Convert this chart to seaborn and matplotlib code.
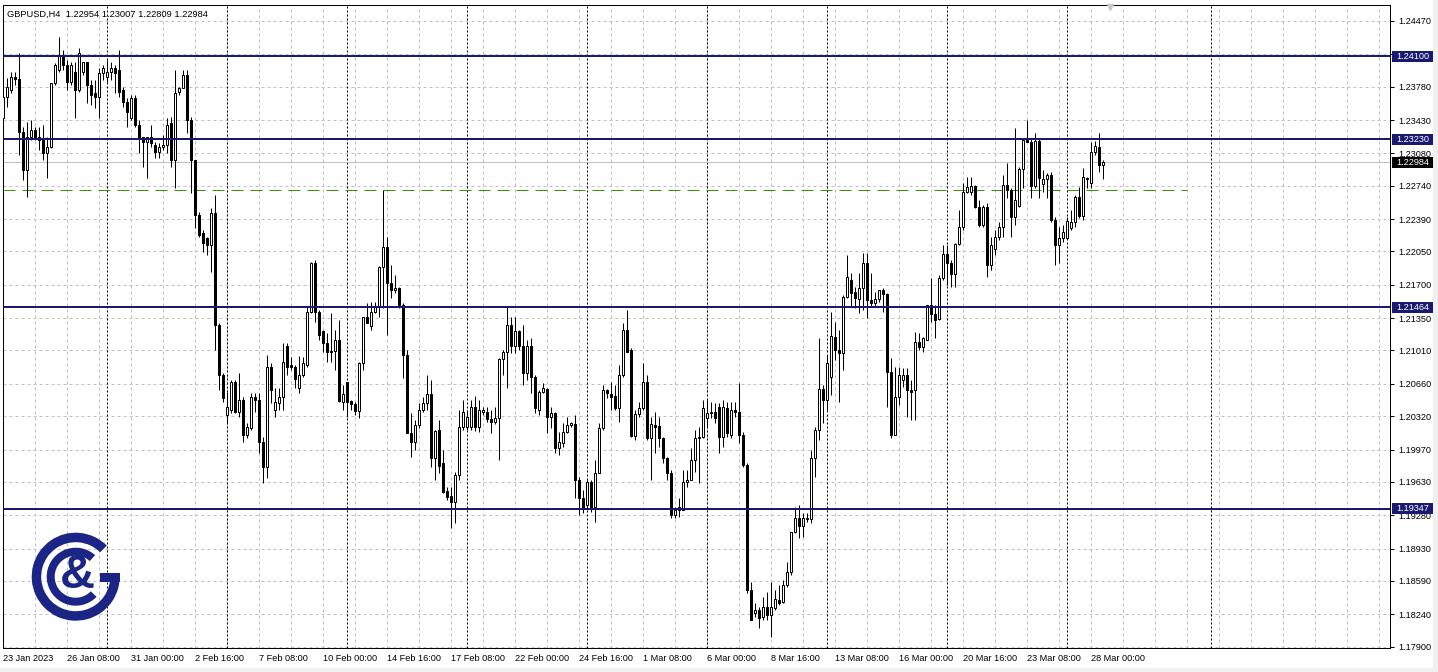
import numpy as np
import pandas as pd
import seaborn as sns
import matplotlib
matplotlib.use("Agg")
import matplotlib.pyplot as plt
import matplotlib.transforms as mtransforms
from matplotlib.patches import Wedge, Rectangle

sns.set_theme(style="white")
plt.rcParams['font.family'] = ['Liberation Sans', 'DejaVu Sans']
plt.rcParams['lines.scale_dashes'] = False

# ---------------- data ----------------
title_text = "GBPUSD,H4  1.22954 1.23007 1.22809 1.22984"
first_bar = 4  # H4 bars counted from 23 Jan 2023 00:00 (weekdays only)

open_pips = [
    12345,12367,12374,12388,12386,12330,12290,12325,12332,12325,
    12322,12308,12315,12382,12395,12411,12401,12383,12393,12374,
    12393,12404,12380,12371,12367,12392,12388,12393,12398,12395,
    12374,12362,12345,12366,12338,12325,12320,12325,12317,12309,
    12315,12317,12340,12301,12372,12377,12390,12343,12301,12243,
    12224,12219,12212,12245,12128,12075,12033,12038,12068,12036,
    12049,12012,12020,12052,12049,12005,11979,12084,12038,12046,
    12052,12106,12086,12084,12062,12075,12086,12141,12193,12141,
    12121,12109,12100,12100,12112,12047,12068,12048,12045,12037,
    12088,12136,12127,12141,12147,12189,12210,12172,12164,12167,
    12149,12096,12014,12005,12023,12038,12046,12055,11988,12017,
    11983,11953,11948,11942,11970,12021,12021,12021,12042,12021,
    12036,12036,12029,12026,12030,12092,12099,12128,12106,12121,
    12106,12077,12106,12073,12038,12057,12061,12031,12035,11999,
    12004,12015,12023,12024,11965,11946,11939,11963,11937,11972,
    12020,12059,12055,12053,12041,12075,12122,12101,12011,12034,
    12041,12068,12009,12023,12022,12009,11988,11972,11928,11933,
    11933,11963,11965,11986,12009,12010,12030,12035,12036,12042,
    12010,12041,12012,12038,12036,12012,11981,11849,11825,11828,
    11821,11832,11823,11831,11839,11837,11855,11868,11910,11925,
    11917,11924,11924,11988,12017,12061,12049,12073,12115,12101,
    12098,12157,12175,12162,12155,12167,12193,12154,12151,12155,
    12164,12160,12078,12012,12052,12070,12075,12059,12059,12110,
    12105,12112,12149,12139,12134,12177,12202,12193,12181,12213,
    12231,12267,12267,12274,12252,12233,12252,12191,12208,12220,
    12231,12275,12269,12241,12253,12292,12322,12320,12274,12321,
    12276,12281,12285,12238,12212,12219,12219,12230,12236,12262,
    12242,12282,12277,12309,12315,12295.4,
]
high_pips = [
    12387,12387,12393,12393,12413,12336,12341,12343,12336,12336,
    12338,12325,12382,12403,12430,12416,12406,12404,12404,12419,
    12404,12404,12385,12385,12398,12401,12406,12404,12401,12416,
    12378,12366,12369,12369,12343,12325,12325,12338,12320,12319,
    12327,12345,12346,12395,12378,12395,12395,12346,12301,12246,
    12227,12220,12251,12264,12130,12077,12057,12070,12070,12077,
    12052,12025,12056,12056,12056,12010,12096,12088,12062,12062,
    12109,12109,12094,12086,12095,12094,12147,12194,12196,12143,
    12122,12119,12140,12122,12133,12065,12068,12049,12047,12089,
    12136,12151,12152,12152,12190,12269,12220,12191,12180,12168,
    12151,12101,12035,12028,12046,12052,12075,12070,12017,12028,
    11996,11958,11958,11973,12038,12049,12038,12049,12053,12049,
    12042,12042,12038,12042,12093,12101,12147,12136,12136,12122,
    12128,12112,12114,12075,12059,12067,12062,12042,12036,12015,
    12025,12031,12026,12033,11968,11954,11965,11965,11986,12025,
    12065,12061,12068,12065,12086,12130,12143,12104,12038,12047,
    12088,12075,12031,12036,12031,12010,11989,11975,11937,11946,
    11975,11975,11999,12017,12021,12049,12049,12047,12046,12046,
    12049,12047,12047,12047,12067,12015,11983,11858,11836,11832,
    11842,11847,11858,11849,11855,11860,11879,11910,11937,11939,
    11930,11930,11996,12021,12114,12065,12096,12141,12131,12122,
    12159,12201,12182,12168,12182,12203,12203,12182,12162,12164,
    12167,12161,12093,12084,12084,12083,12083,12070,12120,12119,
    12115,12149,12177,12149,12180,12212,12212,12196,12214,12248,
    12277,12283,12283,12275,12259,12254,12256,12220,12227,12236,
    12285,12298,12272,12335,12294,12324,12343,12324,12329,12324,
    12290,12287,12288,12241,12231,12233,12241,12248,12264,12273,
    12293,12283,12320,12321,12329,12300.7,
]
low_pips = [
    12343,12357,12371,12380,12306,12280,12262,12322,12322,12311,
    12301,12282,12314,12380,12393,12395,12374,12380,12345,12372,
    12390,12361,12359,12356,12345,12385,12383,12385,12371,12367,
    12357,12336,12343,12336,12308,12294,12282,12315,12303,12303,
    12311,12308,12294,12272,12369,12377,12329,12266,12230,12220,
    12204,12201,12183,12101,12059,12047,12025,12035,12035,12031,
    12005,12009,12017,12036,11993,11962,11967,12046,12031,12038,
    12038,12075,12081,12062,12056,12073,12084,12140,12131,12112,
    12099,12089,12089,12081,12047,12038,12031,12038,12033,12030,
    12081,12130,12122,12140,12136,12146,12117,12156,12161,12146,
    12072,12014,11989,11996,12020,12036,12038,11979,11965,11972,
    11951,11944,11915,11920,11965,12017,12017,12017,12016,12015,
    12033,12026,12014,12024,11986,12075,12062,12098,12098,12101,
    12065,12070,12056,12035,12033,12056,12014,12020,11993,11991,
    12000,12014,12021,11946,11928,11930,11937,11931,11921,11972,
    12017,12051,12038,12038,12026,12073,12099,12010,12007,12031,
    12038,12007,11965,11993,12000,11983,11965,11925,11925,11926,
    11933,11958,11965,11973,11962,12009,12021,12030,12025,11993,
    12000,12010,12009,12031,12004,11979,11846,11818,11821,11810,
    11818,11818,11800,11828,11834,11836,11853,11865,11909,11904,
    11905,11921,11920,11968,12007,12025,12038,12054,12091,12047,
    12081,12156,12147,12146,12140,12143,12135,12147,12147,12152,
    12141,12042,12009,12012,12044,12063,12031,12028,12028,12101,
    12099,12112,12131,12114,12133,12175,12170,12168,12168,12212,
    12227,12266,12264,12251,12231,12231,12178,12185,12201,12217,
    12220,12261,12220,12233,12252,12272,12320,12261,12272,12261,
    12267,12261,12236,12191,12193,12215,12219,12227,12231,12240,
    12238,12272,12272,12306,12288,12280.9,
]
close_pips = [
    12367,12378,12388,12386,12330,12290,12325,12332,12325,12322,
    12308,12315,12382,12401,12411,12401,12383,12401,12374,12413,
    12404,12380,12369,12367,12392,12398,12393,12398,12392,12372,
    12362,12351,12366,12338,12324,12320,12325,12319,12309,12315,
    12317,12338,12301,12371,12377,12390,12343,12301,12243,12222,
    12214,12212,12245,12128,12075,12051,12042,12068,12036,12049,
    12012,12021,12052,12049,12005,11979,12084,12059,12047,12052,
    12089,12084,12084,12071,12075,12088,12141,12193,12141,12117,
    12109,12099,12099,12112,12048,12055,12047,12045,12037,12088,
    12136,12130,12141,12147,12189,12210,12172,12164,12167,12149,
    12096,12014,12005,12023,12038,12046,12055,11988,12016,11980,
    11952,11947,11942,11970,12021,12036,12031,12042,12021,12038,
    12038,12029,12026,12030,12092,12099,12128,12106,12121,12106,
    12077,12106,12073,12041,12057,12062,12031,12035,11999,12005,
    12015,12023,12025,11965,11946,11936,11963,11937,11972,12020,
    12059,12056,12052,12041,12075,12122,12099,12011,12034,12041,
    12068,12009,12024,12021,12009,11988,11972,11928,11933,11937,
    11963,11965,11986,12009,12010,12041,12035,12036,12030,12010,
    12042,12014,12038,12036,12012,11981,11849,11818,11828,11820,
    11832,11823,11832,11840,11836,11855,11868,11910,11925,11917,
    11925,11925,11988,12017,12061,12049,12088,12116,12101,12098,
    12157,12178,12161,12156,12167,12193,12154,12151,12155,12164,
    12160,12078,12012,12052,12075,12075,12059,12057,12110,12105,
    12114,12149,12139,12133,12177,12202,12193,12181,12213,12231,
    12267,12273,12274,12252,12233,12252,12191,12212,12220,12231,
    12275,12269,12241,12259,12292,12322,12320,12274,12321,12282,
    12281,12285,12238,12212,12219,12225,12237,12236,12262,12242,
    12283,12281,12309,12316,12296,12298.4,
]

price_ticks = [1.24470, 1.24120, 1.23780, 1.23430, 1.23080, 1.22740, 1.22390,
               1.22050, 1.21700, 1.21350, 1.21010, 1.20660, 1.20320, 1.19970,
               1.19630, 1.19280, 1.18930, 1.18590, 1.18240, 1.17900]
level_lines = [1.24100, 1.23230, 1.21464, 1.19347]
bid_price = 1.22984
green_level = 1.2270
green_end_bar = 300
week_start_bars = [30, 60, 90, 120, 150, 180, 210, 240, 270, 306]
date_labels = ["23 Jan 2023", "26 Jan 08:00", "31 Jan 00:00", "2 Feb 16:00",
               "7 Feb 08:00", "10 Feb 00:00", "14 Feb 16:00", "17 Feb 08:00",
               "22 Feb 00:00", "24 Feb 16:00", "1 Mar 08:00", "6 Mar 00:00",
               "8 Mar 16:00", "13 Mar 08:00", "16 Mar 00:00", "20 Mar 16:00",
               "23 Mar 08:00", "28 Mar 00:00"]
label_step = 16
grid_step = 8

# ---------------- frame ----------------
W, H = 1438, 672
PX = 72.0 / 100.0  # points per pixel
ax_l, ax_r, ax_t, ax_b = 3, 1390, 5, 648
AXW = ax_r - ax_l
AXH = ax_b - ax_t

df = pd.DataFrame({
    "bar": np.arange(first_bar, first_bar + len(open_pips)),
    "open": np.array(open_pips) / 1e4,
    "high": np.array(high_pips) / 1e4,
    "low": np.array(low_pips) / 1e4,
    "close": np.array(close_pips) / 1e4,
})

fig = plt.figure(figsize=(W / 100, H / 100), dpi=100)
fig.patch.set_facecolor("white")
ax = fig.add_axes([ax_l / W, 1 - ax_b / H, AXW / W, AXH / H])
ax.set_facecolor("white")

x_lo = first_bar
x_hi = first_bar + AXW / 4.0
y_lo, y_hi = 1.17886, 1.246375
ax.set_xlim(x_lo, x_hi)
ax.set_ylim(y_lo, y_hi)
PPX = (y_hi - y_lo) / AXH  # price per pixel

grid_kw = dict(color="#c0c0c0", linewidth=PX, linestyle=(0, (3 * PX, 3 * PX)))

# horizontal grid at price ticks
ax.set_yticks(price_ticks)
ax.set_yticklabels([f"{p:.5f}" for p in price_ticks])
ax.yaxis.tick_right()
ax.yaxis.grid(True, **grid_kw)

# vertical grid / date labels
label_bars = [first_bar + label_step * k for k in range(len(date_labels))]
grid_bars = np.arange(first_bar, x_hi, grid_step)
ax.set_xticks(label_bars)
ax.set_xticklabels(date_labels, ha="left")
ax.set_xticks([b for b in grid_bars if b not in label_bars], minor=True)
ax.xaxis.grid(True, which="both", **grid_kw)
ax.set_axisbelow(True)

ax.tick_params(axis="x", which="both", length=0, pad=4, labelsize=6.6, colors="black")
ax.tick_params(axis="y", which="major", length=3, width=PX, direction="out",
               pad=3, labelsize=6.6, colors="black", right=True, left=False)

for s in ax.spines.values():
    s.set_visible(True)
    s.set_color("black")
    s.set_linewidth(PX)

# weekly separators
for wb in week_start_bars:
    ax.axvline(wb, color="black", linewidth=PX, linestyle=(0, (2 * PX, 2 * PX)), zorder=1.2)

# green dashed level
ax.plot([x_lo, green_end_bar], [green_level, green_level], color="#3d8f0e",
        linewidth=PX, linestyle=(0, (12 * PX, 7 * PX)), zorder=2)

# bid line
ax.axhline(bid_price, color="#c0c0c0", linewidth=PX, zorder=1.5)

# horizontal levels
navy = "#191970"
for lv in level_lines:
    ax.axhline(lv, color=navy, linewidth=2 * PX, zorder=5)

# candles
ax.vlines(df["bar"], df["low"], df["high"], color="black", linewidth=PX, zorder=3)
bull = df["close"] >= df["open"]
body_bottom = np.minimum(df["open"], df["close"])
body_height = np.maximum(np.abs(df["close"] - df["open"]), 0.3 * PPX)
ax.bar(df["bar"], body_height, bottom=body_bottom, width=0.5,
       color=np.where(bull, "white", "black"), edgecolor="black",
       linewidth=PX, zorder=4)

# right-side price boxes
blend = mtransforms.blended_transform_factory(ax.transAxes, ax.transData)
def price_box(value, face):
    ax.add_patch(Rectangle((1 + 2 / AXW, value - 5.5 * PPX), 41 / AXW, 11 * PPX,
                           transform=blend, facecolor=face, edgecolor="none",
                           clip_on=False, zorder=10))
    ax.text(1 + 6 / AXW, value, f"{value:.5f}", transform=blend, color="white",
            fontsize=6.6, va="center", ha="left", zorder=11, clip_on=False)

for lv in level_lines:
    price_box(lv, navy)
price_box(bid_price, "black")

# chart shift marker
ax.plot([(1110 - ax_l) / AXW], [1 - 2 / AXH], marker="v", markersize=5,
        color="#c8c8c8", transform=ax.transAxes, clip_on=False, zorder=6)

# title
fig.text(7 / W, 1 - 14 / H, title_text, fontsize=6.7, ha="left", va="center",
         color="black")

# window strips
fig.patches.append(Rectangle((1433 / W, 0), 5 / W, 1, transform=fig.transFigure,
                             facecolor="#f0f0f0", edgecolor="none", zorder=0))
fig.patches.append(Rectangle((0, 0), 1, 4 / H, transform=fig.transFigure,
                             facecolor="#f0f0f0", edgecolor="none", zorder=0))

# logo (pixel coordinates, y up)
logo_col = "#1b2585"
lax = fig.add_axes([25 / W, 1 - 627 / H, 100 / W, 100 / H])
lax.set_xlim(25, 125)
lax.set_ylim(672 - 627, 672 - 527)
lax.axis("off")
lax.patch.set_alpha(0)
cx, cy = 75.7, 672 - 576.7
lax.add_patch(Wedge((cx, cy), 44, 45, 365, width=9.5, facecolor=logo_col, edgecolor="none"))
lax.add_patch(Rectangle((100, 672 - 582), 119.7 - 100, 9, facecolor=logo_col, edgecolor="none"))
lax.add_patch(Wedge((cx, cy), 29, 48, 316, width=8, facecolor=logo_col, edgecolor="none"))
lax.text(cx + 1.5, cy + 1, "&", fontsize=35, fontweight="bold", color=logo_col,
         ha="center", va="center", family=["Liberation Sans", "DejaVu Sans"])

fig.savefig("out.png", dpi=100, facecolor="white")
